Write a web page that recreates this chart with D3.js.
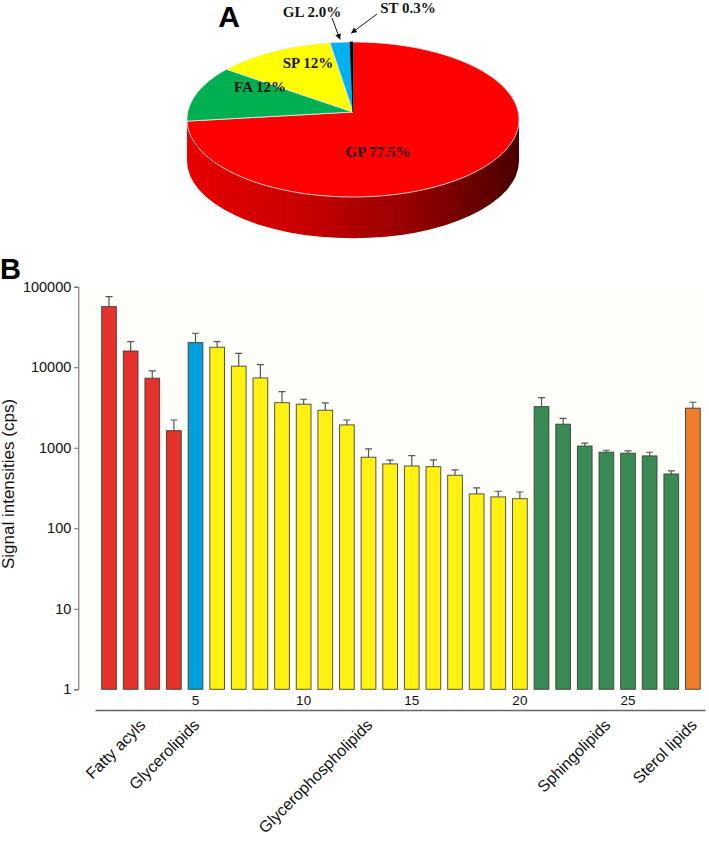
<!DOCTYPE html>
<html>
<head>
<meta charset="utf-8">
<script src="https://cdn.jsdelivr.net/npm/d3@7"></script>
<style>
  body { margin: 0; background: #fff; }
  svg { display: block; }
  .axis text { font-family: "Liberation Sans", Arial, sans-serif; fill: #111; }
</style>
</head>
<body>
<div id="chart"></div>
<script>
// Pie (panel A)
const pieLabels = ["GP 77.5%", "FA 12%", "SP 12%", "GL 2.0%", "ST 0.3%"];
const pieValues = [77.5, 12, 12, 2.0, 0.3];
const pieColors = ["#ff0000", "#00b050", "#ffff00", "#00b0f0", "#000000"];

// Bars (panel B)
const barIds = d3.range(1, 29);
const barValues = [56600, 15900, 7300, 1630, 20200, 17700, 10300, 7360, 3630, 3470,
                   2920, 1920, 762, 630, 594, 582, 455, 267, 245, 233,
                   3240, 1960, 1050, 880, 855, 792, 472, 3100];
const barErrors = [75300, 20800, 9000, 2210, 26400, 20800, 14900, 10800, 4980, 4000,
                   3600, 2210, 966, 700, 798, 705, 530, 317, 288, 282,
                   4190, 2320, 1140, 931, 912, 879, 515, 3670];
const groupNames = ["Fatty acyls", "Glycerolipids", "Glycerophospholipids", "Sphingolipids", "Sterol lipids"];
const groupFirst = [1, 5, 6, 21, 28];
const groupLast = [4, 5, 20, 27, 28];
const groupColors = ["#e5322d", "#00a0db", "#fff212", "#3a8a55", "#ef7b2c"];
const yTicks = [1, 10, 100, 1000, 10000, 100000];
const xTicks = [5, 10, 15, 20, 25];

const W = 709, H = 842;
const svg = d3.select('#chart').append('svg')
    .attr('width', W)
    .attr('height', H);

svg.append('rect').attr('width', W).attr('height', H).attr('fill', '#fff');

// ---------- PIE ----------
const pc = {cx: 353, cy: 119.5, rx: 166, ry: 77.5, depth: 41.3, apexY: 112};
const perim = a => [pc.cx + pc.rx * Math.sin(a), pc.cy - pc.ry * Math.cos(a)];

const pieData = d3.pie().sort(null)(pieValues);

const defs = svg.append('defs');
const grad = defs.append('linearGradient')
    .attr('id', 'sideGrad')
    .attr('x1', '0%').attr('x2', '100%').attr('y1', '0%').attr('y2', '0%');
grad.append('stop').attr('offset', '0%').attr('stop-color', '#e80000');
grad.append('stop').attr('offset', '35%').attr('stop-color', '#c80000');
grad.append('stop').attr('offset', '70%').attr('stop-color', '#900000');
grad.append('stop').attr('offset', '100%').attr('stop-color', '#4a0000');

const pieG = svg.append('g').attr('class', 'pie');

// side wall (front half)
pieG.append('path')
    .attr('d', 'M' + (pc.cx + pc.rx) + ',' + pc.cy +
        ' A' + pc.rx + ',' + pc.ry + ' 0 0 1 ' + (pc.cx - pc.rx) + ',' + pc.cy +
        ' L' + (pc.cx - pc.rx) + ',' + (pc.cy + pc.depth) +
        ' A' + pc.rx + ',' + pc.ry + ' 0 0 0 ' + (pc.cx + pc.rx) + ',' + (pc.cy + pc.depth) + ' Z')
    .attr('fill', 'url(#sideGrad)');

function slicePath(d) {
    let pts = [[pc.cx, pc.apexY]];
    let n = Math.max(2, Math.ceil((d.endAngle - d.startAngle) / 0.02));
    for (let i = 0; i <= n; i++) {
        pts.push(perim(d.startAngle + (d.endAngle - d.startAngle) * i / n));
    }
    return 'M' + pts.map(p => p[0].toFixed(2) + ',' + p[1].toFixed(2)).join('L') + 'Z';
}

pieG.selectAll('.slice')
    .data(pieData)
    .enter().append('path')
    .attr('class', 'slice')
    .attr('d', slicePath)
    .attr('fill', (d, i) => pieColors[i])
    .attr('stroke', (d, i) => i === 4 ? '#000' : '#e6eef0')
    .attr('stroke-width', 0.8);

// label positions (text centres)
const labelPos = [[378, 152], [260, 87], [308, 63], [312, 12], [408, 8]];
pieG.selectAll('.plabel')
    .data(pieLabels)
    .enter().append('text')
    .attr('class', 'plabel')
    .attr('x', (d, i) => labelPos[i][0])
    .attr('y', (d, i) => labelPos[i][1])
    .attr('dy', '0.35em')
    .attr('text-anchor', 'middle')
    .style('font-family', '"Liberation Serif", "Times New Roman", serif')
    .style('font-weight', 'bold')
    .style('font-size', '15px')
    .attr('fill', (d, i) => i === 0 ? '#2a0505' : '#161616')
    .text(d => d);

// arrows to the small slices
defs.append('marker')
    .attr('id', 'arrow')
    .attr('viewBox', '0 0 10 10')
    .attr('refX', 9).attr('refY', 5)
    .attr('markerWidth', 6).attr('markerHeight', 6)
    .attr('orient', 'auto')
    .append('path').attr('d', 'M0,0L10,5L0,10Z').attr('fill', '#111');

const arrowFrom = [[332, 18], [377, 14]];
const arrowLift = [3, 9];
[3, 4].forEach((k, j) => {
    let mid = (pieData[k].startAngle + pieData[k].endAngle) / 2;
    let p = perim(mid);
    pieG.append('line')
        .attr('x1', arrowFrom[j][0]).attr('y1', arrowFrom[j][1])
        .attr('x2', p[0]).attr('y2', p[1] - arrowLift[j])
        .attr('stroke', '#111').attr('stroke-width', 1)
        .attr('marker-end', 'url(#arrow)');
});

svg.append('text')
    .attr('x', 229).attr('y', 27)
    .attr('text-anchor', 'middle')
    .style('font-family', '"Liberation Sans", Arial, sans-serif')
    .style('font-weight', 'bold')
    .style('font-size', '30px')
    .text('A');

// ---------- BARS ----------
const yScale = d3.scaleLog()
    .domain([1, 100000])
    .range([689.3, 286.7]);

const xScale = d3.scaleBand()
    .domain(barIds)
    .range([98.2, 703.7])
    .paddingInner(0.32)
    .paddingOuter(0.16);

const bw = xScale.bandwidth();
const groupOf = id => groupFirst.findIndex((f, g) => id >= f && id <= groupLast[g]);

svg.append('rect')
    .attr('x', 78.3).attr('y', 286.7)
    .attr('width', 627).attr('height', 402.6)
    .attr('fill', '#fdfdf9');

svg.append('text')
    .attr('x', 0).attr('y', 279)
    .style('font-family', '"Liberation Sans", Arial, sans-serif')
    .style('font-weight', 'bold')
    .style('font-size', '29px')
    .text('B');

const barG = svg.append('g').attr('class', 'bars');

// error bars
barG.selectAll('.err')
    .data(barIds)
    .enter().append('path')
    .attr('class', 'err')
    .attr('d', (d, i) => {
        let cx = xScale(d) + bw / 2;
        return 'M' + cx + ',' + yScale(barValues[i]) + 'V' + yScale(barErrors[i]) +
            'M' + (cx - 3.5) + ',' + yScale(barErrors[i]) + 'H' + (cx + 3.5);
    })
    .attr('stroke', '#555')
    .attr('stroke-width', 1.2)
    .attr('fill', 'none');

barG.selectAll('.bar')
    .data(barIds)
    .enter().append('rect')
    .attr('class', 'bar')
    .attr('x', d => xScale(d))
    .attr('y', (d, i) => yScale(barValues[i]))
    .attr('width', bw)
    .attr('height', (d, i) => yScale(1) - yScale(barValues[i]))
    .attr('fill', d => groupColors[groupOf(d)])
    .attr('stroke', '#3a3a30')
    .attr('stroke-opacity', 0.85)
    .attr('stroke-width', 1);

// Y axis
const yAxis = d3.axisLeft(yScale)
    .tickValues(yTicks)
    .tickFormat(d3.format('d'))
    .tickSize(4)
    .tickPadding(3);

const gY = svg.append('g')
    .attr('class', 'axis')
    .attr('transform', 'translate(78.3,0)')
    .call(yAxis);
gY.selectAll('path, line').attr('stroke', '#666');
gY.selectAll('text').style('font-size', '14.5px');

svg.append('text')
    .attr('transform', 'translate(14,484) rotate(-90)')
    .attr('text-anchor', 'middle')
    .style('font-family', '"Liberation Sans", Arial, sans-serif')
    .style('font-size', '17px')
    .attr('fill', '#111')
    .text('Signal intensities (cps)');

// X tick labels
const xAxis = d3.axisBottom(xScale)
    .tickValues(xTicks)
    .tickSize(0)
    .tickPadding(6.5);

const gX = svg.append('g')
    .attr('class', 'axis')
    .attr('transform', 'translate(0,689.3)')
    .call(xAxis);
gX.select('.domain').remove();
gX.selectAll('text').style('font-size', '13.5px');

// lower baseline
const lineScale = d3.scaleLinear().domain([0, 1]).range([95, 705]);
const gX2 = svg.append('g')
    .attr('class', 'axis')
    .attr('transform', 'translate(0,710)')
    .call(d3.axisBottom(lineScale).tickValues([]).tickSizeOuter(0));
gX2.select('.domain').attr('stroke', '#666').attr('stroke-width', 1.3);

// category labels
svg.selectAll('.cat')
    .data(groupNames)
    .enter().append('text')
    .attr('class', 'cat')
    .attr('transform', (d, i) => {
        let cx = (xScale(groupFirst[i]) + xScale(groupLast[i]) + bw) / 2;
        return 'translate(' + (cx + 5) + ',726) rotate(-45)';
    })
    .attr('text-anchor', 'end')
    .style('font-family', '"Liberation Sans", Arial, sans-serif')
    .style('font-size', '16px')
    .attr('fill', '#111')
    .text(d => d);
</script>
</body>
</html>
